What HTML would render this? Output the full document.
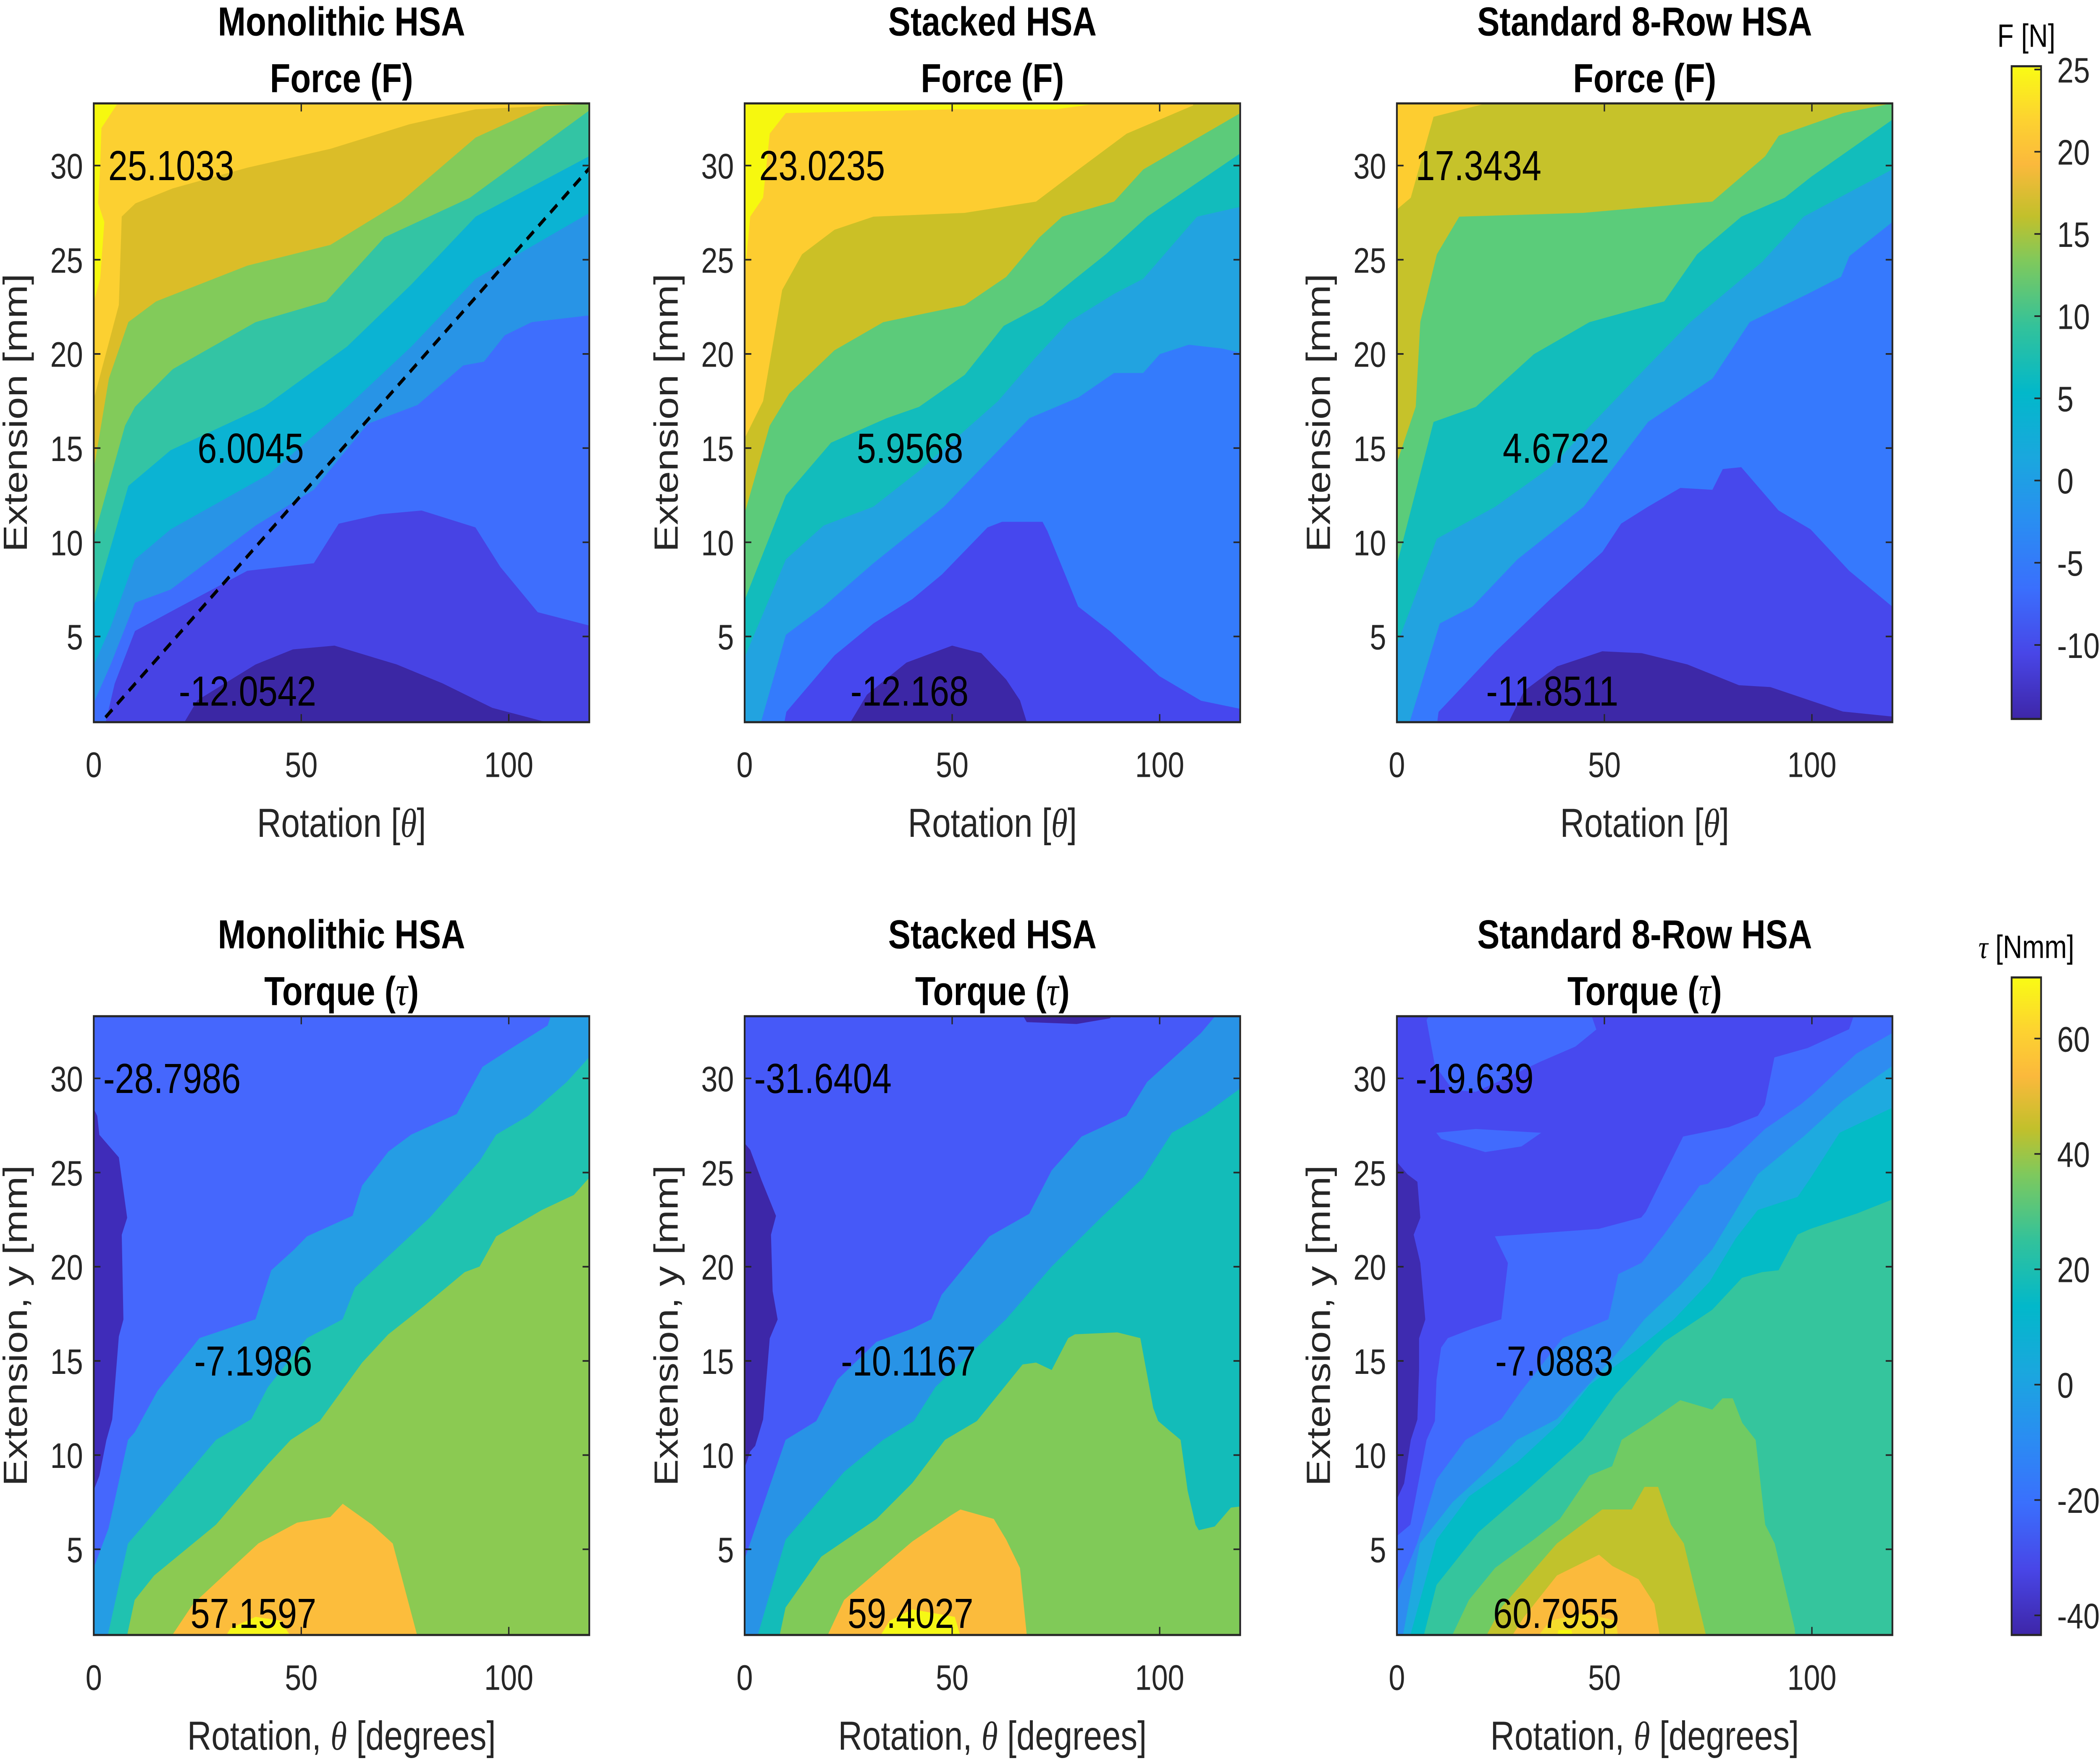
<!DOCTYPE html>
<html><head><meta charset="utf-8">
<style>
html,body{margin:0;padding:0;background:#fff;width:100vw;height:100vh;overflow:hidden;}
#wrap{position:absolute;left:0;top:0;width:100vw;height:100vh;overflow:hidden;}
svg{display:block;width:100vw;height:100vh;}
text{font-family:"Liberation Sans",Arial,sans-serif;}
</style></head><body>
<div id="wrap">
<svg id="fig" xmlns="http://www.w3.org/2000/svg" viewBox="0 0 1568 1090" preserveAspectRatio="none">
<defs>
<linearGradient id="parula" x1="0" y1="1" x2="0" y2="0">
<stop offset="0" stop-color="#3e26a8"/><stop offset="0.1" stop-color="#4846e7"/><stop offset="0.2" stop-color="#3a6ffd"/>
<stop offset="0.3" stop-color="#2a8df2"/><stop offset="0.4" stop-color="#1aa7de"/><stop offset="0.5" stop-color="#02b8ca"/>
<stop offset="0.6" stop-color="#32c29b"/><stop offset="0.7" stop-color="#7ec95d"/><stop offset="0.77" stop-color="#c2c02b"/>
<stop offset="0.85" stop-color="#fbb93c"/><stop offset="0.92" stop-color="#fdd330"/><stop offset="1" stop-color="#f9fb14"/>
</linearGradient>
</defs>
</svg>
</div>
<script>
const xTicks = [0, 50, 100];
const yTicks = [5, 10, 15, 20, 25, 30];
const xRange = [0, 119.4];
const yRange = [0.45, 33.3];
const forceBarTicks = [25, 20, 15, 10, 5, 0, -5, -10];
const forceBarRange = [-14.5, 25.2];
const torqueBarTicks = [60, 40, 20, 0, -20, -40];
const torqueBarRange = [-43.4, 70.6];

const panelTitles = [["Monolithic HSA","Force (F)"],["Stacked HSA","Force (F)"],["Standard 8-Row HSA","Force (F)"],
  ["Monolithic HSA","Torque (τ)"],["Stacked HSA","Torque (τ)"],["Standard 8-Row HSA","Torque (τ)"]];
const panelAnnotations = [
  [["25.1033",3.5,30],["6.0045",25,15],["-12.0542",20.5,2.1]],
  [["23.0235",3.5,30],["5.9568",27,15],["-12.168",25.5,2.1]],
  [["17.3434",4.5,30],["4.6722",25.5,15],["-11.8511",21.5,2.1]],
  [["-28.7986",2.3,30],["-7.1986",24.2,15],["57.1597",23.3,1.6]],
  [["-31.6404",2.3,30],["-10.1167",23.2,15],["59.4027",24.8,1.6]],
  [["-19.639",4.5,30],["-7.0883",23.7,15],["60.7955",23.2,1.6]]
];

const monoForceColors = ["#4743e4","#3b27a4","#3e6efd","#2894e6","#0bb3d3","#33c4a4","#82cb5a","#dbbd28","#fcd031","#f6f80f"];
const stackForceColors = ["#4647ee","#3c27a6","#347bfc","#22a3e0","#12bcbc","#5ccb7a","#cbc026","#fdcd30","#f6f80f"];
const stdForceColors = ["#4748ec","#3d28a7","#3679fd","#22a3e0","#12bdbc","#5bcc7a","#c6c22a","#fdcd30"];
const monoTorqueColors = ["#4567fd","#3f2cb9","#259de4","#20c2b0","#8bca52","#fcbd3c","#f6f618"];
const stackTorqueColors = ["#4659f8","#3d27a8","#3d27a8","#2893e6","#13bcb9","#80ca58","#fbbb3c","#f6f815"];
const stdTorqueColors = ["#4749ef","#416bfe","#416bfe","#416bfe","#3e2bb0","#2e8cf0","#1eaadf","#04bbc6","#35c59d","#70cb63","#c1c22c","#fbba3c","#f4dc2c","#f6f80f"];

const monoForceContours = [
 ["closed",[[18,-1],[25,1.6],[39,3.5],[48,4.3],[58,4.5],[73,3.5],[84,2.5],[96,1.2],[108,0.5],[121,0.2],[121,-1]]],
 ["up",[[1.3,-1],[5,2.5],[9.9,5.3],[20,6.5],[37,8.5],[53,8.9],[59,11],[69,11.5],[79,11.7],[92,10.8],[98,8.7],[107,6.3],[121,5.5]]],
 ["up",[[-1,1],[4,3.5],[9.9,6.8],[18.5,7.5],[39,10.9],[53,12.8],[66,16.3],[78,17.3],[89,19.4],[94,19.6],[99,21],[105.5,21.7],[121,22.1]]],
 ["up",[[-1,3],[4,5.5],[9.9,9.1],[18.5,10.7],[42,13.6],[61,17.2],[76.5,20.4],[92,24],[121,27.7]]],
 ["up",[[-1,5.9],[8.3,13],[18.5,14.9],[41,17.2],[61,20.4],[76.5,23.7],[92,27.3],[121,30.7]]],
 ["up",[[-1,9.5],[7.5,16.2],[9.9,17.2],[19,19.2],[39,21.7],[56,22.8],[70,26.2],[90.6,28.3],[121,33.2]]],
 ["up",[[-1,12.6],[3.6,18.7],[8.3,21.7],[15,22.8],[37,24.7],[57,25.8],[74,28.1],[92,31.5],[109,33.2],[110,34.5]]],
 ["up",[[-1,16.8],[6,22.6],[6.7,27.3],[10,28],[19,28.8],[37,29.9],[57,30.9],[76,32.2],[92,33],[121,33.3]]],
 ["up",[[-1,22],[1.5,24],[2.5,27],[1,28],[1.5,30],[1.8,32],[6,33.4],[8,34.5]]]
];
const stackForceContours = [
 ["closed",[[21.6,-1],[29.5,1.9],[39,3.6],[50,4.5],[57,4.1],[63,2.7],[66.3,1.6],[70,-1]]],
 ["up",[[8.3,-1],[10,1],[21.6,4],[31,5.7],[40.4,7],[47.5,8.3],[58.5,10.8],[62,11.1],[71.8,11.1],[73,10.6],[80.4,6.6],[88,5.3],[100,2.9],[110,1.6],[121,1.1]]],
 ["up",[[2,-1],[9.9,5.1],[19,6.6],[31,8.9],[48,11.9],[68.6,16.6],[80.4,17.7],[89,19],[96,19],[100,20],[107,20.5],[115,20.3],[121,20]]],
 ["up",[[-1,3.4],[9.9,9.1],[19,10.9],[31,11.9],[42,13.8],[61,17.5],[70,19.8],[78,21.7],[89,23.2],[96,24],[109,27.3],[121,27.9]]],
 ["up",[[-1,6.4],[9.9,12.5],[20.8,15.3],[34.2,16.6],[42,17.2],[53,18.9],[62.4,21.5],[71.8,22.6],[79.6,24],[87,25.3],[97,27.3],[121,30.9]]],
 ["up",[[-1,10.8],[6,16.2],[10.7,17.9],[21.6,20.2],[33.4,21.7],[53,22.6],[63,24.1],[71,26.2],[76.5,27.3],[89,28.1],[96,29.8],[121,33]]],
 ["up",[[-1,15.1],[4.4,17.5],[9,23.4],[13.8,25.3],[21.6,26.6],[31,27.3],[53,27.5],[70.2,28.1],[80.4,29.8],[92,31.7],[108,33.2],[109,34.5]]],
 ["up",[[-1,22],[1.3,27.3],[4.4,28.3],[6,31.7],[9.9,32.8],[50,33],[75,33],[85,33.3],[88,34.5]]]
];
const stdForceContours = [
 ["closed",[[23.7,-1],[30.7,2.1],[38.6,3.4],[49.5,4.2],[59,4.1],[70,3.5],[82.4,2.4],[90,2.3],[107.5,1],[121,0.7],[121,-1]]],
 ["up",[[8.8,-1],[10,1],[23.7,4.2],[37,7],[49.5,9.5],[54,11],[60.5,11.9],[68.3,12.9],[76,12.8],[78.5,13.9],[83,14],[92,11.7],[99.7,10.7],[109,8.5],[121,6.3]]],
 ["up",[[1,-1],[10.3,5.7],[18.2,6.6],[29,9.1],[45,11.9],[60.5,16.4],[76,18.7],[85,21.7],[99,23.2],[107,24.1],[109,25.2],[121,27.3]]],
 ["up",[[-1,4],[9.6,10.2],[23.7,11.9],[37,14],[56.6,18.5],[70.7,21.7],[88,24.9],[98,27.3],[121,30]]],
 ["up",[[-1,8],[8.8,16.4],[19,17.2],[33,20],[46.4,21.7],[64.4,22.8],[72.3,25.3],[83,27.3],[93.4,28.3],[99.7,29.4],[121,32.7]]],
 ["up",[[-1,13.6],[4.5,17.2],[5.6,21.7],[9.6,25.3],[15,27.3],[44.8,27.5],[76,28.1],[88.7,30.5],[92,31.6],[107.5,32.8],[119,33.3],[121,34.5]]],
 ["up",[[-1,27.5],[3.3,28.3],[8.8,32.6],[21.3,33.3],[21,34.5]]]
];
const monoTorqueContours = [
 ["closed",[[-1,28.8],[0.8,28],[1.3,27],[6,25.8],[8,22.6],[6.7,21.7],[7.1,17.2],[6,16.3],[4.4,11.9],[3,10.8],[1.3,8.9],[-1,7.6]]],
 ["down",[[-1,3.4],[3.6,6.1],[8.3,10.8],[9.9,11.2],[15.4,13.4],[25.5,16.2],[39,17.2],[42.8,19.8],[48.3,20.9],[51.4,21.6],[62.4,22.7],[64.7,24.3],[71,26.1],[76.5,27],[87.5,28.1],[93.7,30.6],[100,31.5],[109.4,32.8],[112,34.5]]],
 ["down",[[2,-1],[8.3,5.3],[12.2,6.3],[29.5,10.8],[38,11.9],[42,13.6],[51.4,16.2],[60,17.2],[63,18.9],[81,22.6],[93,25.6],[97,27],[104.7,28],[114,29.8],[121,31.5]]],
 ["down",[[6.7,-1],[9.9,2.3],[14.6,3.6],[29.5,6.3],[42,9.5],[47.5,10.8],[54.5,11.8],[64.7,14.9],[71,16.4],[79.6,17.9],[89.4,19.7],[93,20],[97,21.6],[108,23],[115.7,23.8],[121,25.1]]],
 ["closed",[[14.6,-1],[24,2.1],[39.7,5.3],[49,6.4],[57,6.7],[60,7.4],[67,6.3],[72,5.3],[79.6,-1]]],
 ["closed",[[28,-1],[33,0.8],[39,1.4],[45,1.2],[51.4,-1]]]
];
const stackTorqueContours = [
 ["closed",[[-1,26.8],[1.3,26.2],[4,24.6],[7.5,22.7],[6.3,21.7],[6.7,18.7],[7.9,17.2],[6,16.2],[4.4,11.9],[2.5,10.5],[1.3,10.2],[-1,8.7]]],
 ["closed",[[64,34.5],[68,33],[80,32.9],[88,33.2],[92,34.5]]],
 ["down",[[-1,3.8],[9.9,10.8],[17.3,11.8],[22.4,14],[31.8,16],[40.4,16.7],[45,17.2],[47.5,18.5],[59,21.6],[68.6,22.8],[74,25.1],[81.2,26.9],[92,28],[97,29.8],[110,32.4],[118,34.5]]],
 ["down",[[1.3,-1],[9.9,5.5],[24,9.1],[33.4,10.8],[40.8,11.8],[46,13.6],[63,17.2],[74,20],[85.9,22.6],[96,24.7],[103,27.1],[111,28.1],[121,29.7]]],
 ["down",[[7.1,-1],[9.9,1.9],[18.5,4.6],[31.8,6.6],[40.4,8.5],[48.3,10.8],[56,11.8],[67,14.8],[70.2,14.9],[74,14.5],[78,16.2],[79.6,16.4],[89.8,16.5],[95.3,16.2],[98.4,12.5],[99.6,11.8],[105,10.8],[106.7,8.1],[108.6,6.3],[109.4,6],[113.3,6.2],[117.2,7.2],[121,7.3]]],
 ["closed",[[17,-1],[24,2.3],[40.4,5.4],[49.8,6.8],[52,7.1],[60,6.6],[63,5.5],[66.3,4],[68.6,-1]]],
 ["closed",[[28.7,-1],[35,1.2],[40.4,1.8],[50.6,1.4],[53.8,-1]]]
];
const stdTorqueContours = [
 ["closed",[[7.2,33.1],[11,34.5],[45,34.5],[48,32.6],[43,31.7],[34.6,30.9],[25,29.9],[19,29.3],[13.5,29.4],[9.2,30.7]]],
 ["closed",[[9.6,27.1],[19,27.3],[34.6,27.1],[30,26.4],[21.3,26.1],[10.7,26.8]]],
 ["down",[[-1,5.5],[3.3,6.3],[7.2,10.8],[9.2,11.8],[9.6,14],[10.7,15.7],[12.3,16.2],[18.2,16.7],[25.2,17.2],[26.8,20.2],[23.7,21.6],[48.7,22],[58.9,22.6],[60,22.9],[69,26.9],[80,27.4],[87,28],[88.7,28.6],[91,31.1],[99,31.6],[109,32.6],[112,34.5]]],
 ["closed",[[-1,25.8],[2.5,24.9],[4.9,24.5],[5.6,22.6],[4,21.7],[5.6,20.2],[6.8,17.2],[5.3,16.2],[5.3,14.5],[4.9,11.9],[3.3,10.8],[1.7,8.5],[-1,7.2]]],
 ["down",[[-1,2.1],[4.9,5.3],[9.6,8.7],[16.6,10.8],[25.2,11.9],[30,13.4],[40,16.2],[51,17.2],[53.4,19.6],[59,20.2],[64.4,21.7],[73,24.3],[75,24.4],[88.7,27.3],[97.3,28.6],[100,29.1],[110.7,31.3],[121,32.6]]],
 ["down",[[0.3,-1],[5.6,5.3],[13.5,7.5],[22.9,9.4],[29,10.8],[38.6,11.9],[52.7,15.3],[59.7,17.2],[68.3,19],[76,20.9],[87,24.9],[98,26.9],[107.5,28.8],[121,30.9]]],
 ["down",[[1.5,-1],[9.6,5.5],[17.4,7.8],[29,9.6],[39.3,11.7],[46.4,13.7],[57.4,15.5],[66.8,17.2],[75.4,19.2],[81.7,21.5],[87,23],[96.6,23.7],[99.7,24.7],[106.7,27.1],[121,28.6]]],
 ["down",[[4.9,-1],[9.6,3.1],[19.7,5.9],[30.7,8],[44.8,10.8],[52.7,13.2],[64.4,16],[76,17.7],[83.2,19.4],[88,19.7],[92,19.8],[96.6,21.7],[99.7,22],[110.7,22.8],[121,23.7]]],
 ["closed",[[10.3,-1],[17.4,2.3],[23.7,4],[33,5.5],[39.3,6.6],[46.4,8.9],[51.9,9.4],[54.2,10.8],[60.5,11.7],[68.3,12.9],[76,12.4],[78.5,13],[80.9,13],[83.2,11.7],[86.4,10.8],[88.7,6.3],[91,5.3],[95.8,0.8],[96.6,-1]]],
 ["closed",[[18.2,-1],[25.2,1.9],[38.6,5.3],[49.5,7.1],[56.6,7.1],[59.7,8.3],[62.9,8.3],[66,6.3],[69.1,5.3],[76,-1]]],
 ["closed",[[23.7,-1],[30.7,1.4],[38.6,3.6],[48.7,4.7],[51.9,4.1],[58.2,3.4],[62,2.1],[64.4,-1]]],
 ["closed",[[29,-1],[37,1.2],[44.8,1.6],[52.7,1.2],[54.2,-1]]],
 ["closed",[[37,-1],[39,0.7],[42,0.7],[44,-1]]]
];
const diagonalLine = [[0,0],[120,30]];

const panelContours = [monoForceContours, stackForceContours, stdForceContours, monoTorqueContours, stackTorqueContours, stdTorqueContours];
const panelColors = [monoForceColors, stackForceColors, stdForceColors, monoTorqueColors, stackTorqueColors, stdTorqueColors];
const panelNames = ["monolithic-force","stacked-force","standard-force","monolithic-torque","stacked-torque","standard-torque"];

const NS = "http://www.w3.org/2000/svg";
const svg = document.getElementById("fig");
const X0 = [70, 556, 1043], Y0 = [64, 629], W = 370, H = 383;
function sx(v, c) { return X0[c] + (v - xRange[0]) / (xRange[1] - xRange[0]) * W; }
function sy(v, r) { return Y0[r] + H - (v - yRange[0]) / (yRange[1] - yRange[0]) * H; }
function mk(tag, attrs, parent) {
  const e = document.createElementNS(NS, tag);
  for (const k in attrs) e.setAttribute(k, attrs[k]);
  (parent || svg).appendChild(e);
  return e;
}
function txt(s, x, y, size, opts, parent) {
  const t = mk("text", Object.assign({x: x, y: y, "font-size": size, fill: "#262626"}, opts || {}), parent);
  t.textContent = s;
  return t;
}

for (let p = 0; p < 6; p++) {
  const r = Math.floor(p / 3), c = p % 3;
  const g = mk("g", {});
  
  
  const clipId = "clip" + p;
  const cp = mk("clipPath", {id: clipId}, g);
  mk("rect", {x: X0[c], y: Y0[r], width: W, height: H}, cp);
  const plot = mk("g", {"clip-path": "url(#" + clipId + ")"}, g);
  
  
  const cols = panelColors[p];
  const bg = mk("rect", {x: X0[c], y: Y0[r], width: W, height: H, fill: cols[0]}, plot);
  
  
  panelContours[p].forEach(function (layer, i) {
    const mode = layer[0];
    let pts = layer[1].slice();
    if (mode === "up") pts = pts.concat([[130, 36], [-10, 36], [-10, pts[0][1]]]);
    if (mode === "down") pts = pts.concat([[130, 36], [130, -3], [-10, -3], [-10, pts[0][1]]]);
    const d = pts.map(function (q) { return sx(q[0], c).toFixed(2) + "," + sy(q[1], r).toFixed(2); }).join(" ");
    const poly = mk("polygon", {points: d, fill: cols[i + 1], stroke: cols[i + 1], "stroke-width": 0.3}, plot);
    
    
  });
  if (p === 0) {
    const ln = mk("line", {x1: sx(diagonalLine[0][0], c), y1: sy(diagonalLine[0][1], r), x2: sx(diagonalLine[1][0], c), y2: sy(diagonalLine[1][1], r),
      stroke: "#000", "stroke-width": 2.2, "stroke-dasharray": "7,5"}, plot);
    
    
  }
  panelAnnotations[p].forEach(function (a) {
    const t = txt(a[0], sx(a[1], c), sy(a[2], r) + 9, 26, {fill: "#000"}, g);
    
    
  });
  const box = mk("rect", {x: X0[c], y: Y0[r], width: W, height: H, fill: "none", stroke: "#262626", "stroke-width": 1.3}, g);
  
  
  xTicks.forEach(function (v) {
    const X = sx(v, c);
    mk("line", {x1: X, y1: Y0[r] + H, x2: X, y2: Y0[r] + H - 5, stroke: "#262626", "stroke-width": 1}, g);
    mk("line", {x1: X, y1: Y0[r], x2: X, y2: Y0[r] + 5, stroke: "#262626", "stroke-width": 1}, g);
    const t = txt(String(v), X, Y0[r] + H + 34, 22, {"text-anchor": "middle"}, g);
    
    
  });
  yTicks.forEach(function (v) {
    const Y = sy(v, r);
    mk("line", {x1: X0[c], y1: Y, x2: X0[c] + 5, y2: Y, stroke: "#262626", "stroke-width": 1}, g);
    mk("line", {x1: X0[c] + W, y1: Y, x2: X0[c] + W - 5, y2: Y, stroke: "#262626", "stroke-width": 1}, g);
    const t = txt(String(v), X0[c] - 8, Y + 8, 22, {"text-anchor": "end"}, g);
    
    
  });
  const tcx = X0[c] + W / 2;
  const t1 = txt(panelTitles[p][0], tcx, Y0[r] - 42, 25, {"text-anchor": "middle", "font-weight": "bold", fill: "#000"}, g);
  
  
  const t2 = mk("text", {x: tcx, y: Y0[r] - 7, "font-size": 25, "text-anchor": "middle", "font-weight": "bold", fill: "#000"}, g);
  
  
  const isT = r === 1;
  const sub = panelTitles[p][1];
  const sym = isT ? "τ" : "F";
  const base = sub.slice(0, sub.indexOf("(") + 1);
  const ts1 = mk("tspan", {}, t2); ts1.textContent = base;
  const ts2 = mk("tspan", isT ? {"font-family": "Liberation Serif, serif", "font-style": "italic", "font-weight": "normal"} : {}, t2); ts2.textContent = sym;
  const ts3 = mk("tspan", {}, t2); ts3.textContent = ")";
  const xl = mk("text", {x: tcx, y: Y0[r] + H + 71, "font-size": 25, "text-anchor": "middle", fill: "#262626"}, g);
  
  
  const a1 = mk("tspan", {}, xl); a1.textContent = isT ? "Rotation, " : "Rotation [";
  const a2 = mk("tspan", {"font-family": "Liberation Serif, serif", "font-style": "italic"}, xl); a2.textContent = "θ";
  const a3 = mk("tspan", {}, xl); a3.textContent = isT ? " [degrees]" : "]";
  const ycx = X0[c] - 50, ycy = Y0[r] + H / 2;
  const yl = txt(isT ? "Extension, y [mm]" : "Extension [mm]", ycx, ycy, 25, {"text-anchor": "middle", transform: "rotate(-90 " + ycx + " " + ycy + ")"}, g);
  
  
}

function colorbar(top, bottom, ticks, range, title, name, isT) {
  const g = mk("g", {});
  
  
  const x = 1502, w = 22;
  mk("rect", {x: x, y: top, width: w, height: bottom - top, fill: "url(#parula)", stroke: "#262626", "stroke-width": 1.3}, g);
  const sc = function (v) { return bottom - (v - range[0]) / (range[1] - range[0]) * (bottom - top); };
  ticks.forEach(function (v) {
    const Y = sc(v);
    mk("line", {x1: x + w, y1: Y, x2: x + w - 5, y2: Y, stroke: "#262626", "stroke-width": 1}, g);
    const t = txt(String(v), x + w + 12, Y + 8, 22, {}, g);
    
    
  });
  const tt = mk("text", {x: x + w / 2, y: top - 12, "font-size": 20, "text-anchor": "middle", fill: "#000"}, g);
  
  
  if (isT) {
    const s1 = mk("tspan", {"font-family": "Liberation Serif, serif", "font-style": "italic"}, tt); s1.textContent = "τ";
    const s2 = mk("tspan", {}, tt); s2.textContent = " [Nmm]";
  } else { tt.textContent = title; }
}
colorbar(41, 445, forceBarTicks, forceBarRange, "F [N]", "force-colorbar", false);
colorbar(605, 1012, torqueBarTicks, torqueBarRange, "τ [Nmm]", "torque-colorbar", true);
</script>
</body></html>
